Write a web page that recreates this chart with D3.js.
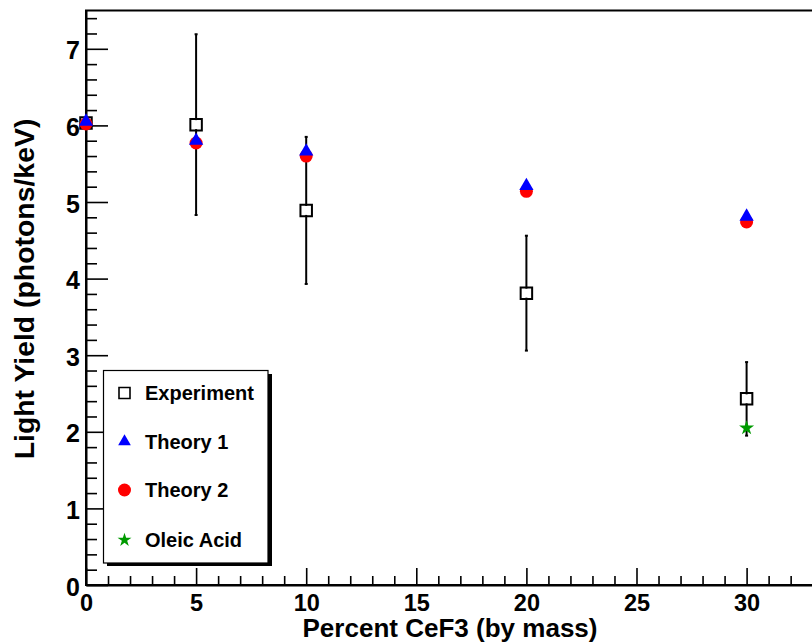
<!DOCTYPE html>
<html>
<head>
<meta charset="utf-8">
<script src="https://cdn.jsdelivr.net/npm/d3@7"></script>
<style>
  html, body { margin: 0; padding: 0; background: #fff; }
  svg { display: block; }
  text { font-family: "Liberation Sans", Arial, Helvetica, sans-serif; font-weight: bold; fill: #000; }
</style>
</head>
<body>
<svg id="chart" width="812" height="643"></svg>
<script>
// ---- data ----
const expX = [0, 5, 10, 20, 30];
const expY = [6.03, 6.01, 4.89, 3.81, 2.43];
const expErr = [0, 1.18, 0.96, 0.75, 0.48];
const theory1X = [0, 5, 10, 20, 30];
const theory1Y = [6.05, 5.80, 5.66, 5.21, 4.81];
const theory2X = [0, 5, 10, 20, 30];
const theory2Y = [6.02, 5.77, 5.60, 5.14, 4.74];
const oleicX = [30];
const oleicY = [2.05];
const legendLabels = ["Experiment", "Theory 1", "Theory 2", "Oleic Acid"];
const xMajorTicks = [0, 5, 10, 15, 20, 25, 30];
const yMajorTicks = [0, 1, 2, 3, 4, 5, 6, 7];
const xTitle = "Percent CeF3 (by mass)";
const yTitle = "Light Yield (photons/keV)";

// ---- layout ----
const svg = d3.select("#chart");
const x = d3.scaleLinear().domain([0, 33.5]).range([86, 86 + 33.5 * 22.02]);
const y = d3.scaleLinear().domain([0, 7.5]).range([585, 585 - 7.5 * 76.6]);

const xMinor = d3.range(0, 34, 1).filter(v => v % 5 !== 0);
const yMinor = d3.range(0, 75, 2).map(v => v / 10).filter(v => Math.abs(v - Math.round(v)) > 1e-6);

// frame
svg.append("rect")
  .attr("x", x(0)).attr("y", y(7.5))
  .attr("width", x(33.5) - x(0)).attr("height", y(0) - y(7.5))
  .attr("fill", "none").attr("stroke", "#000").attr("stroke-width", 2);

// x axis
const gx = svg.append("g").attr("transform", `translate(0,${y(0)})`);
gx.call(d3.axisBottom(x).tickValues(xMajorTicks).tickFormat(d3.format("d"))
  .tickSizeInner(-17).tickSizeOuter(0).tickPadding(9));
gx.append("g").call(d3.axisBottom(x).tickValues(xMinor).tickFormat("")
  .tickSizeInner(-9).tickSizeOuter(0)).select(".domain").remove();
gx.selectAll("text").style("font-size", "23.5px").attr("font-family", null);

// y axis
const gy = svg.append("g").attr("transform", `translate(${x(0)},0)`);
gy.call(d3.axisLeft(y).tickValues(yMajorTicks).tickFormat(d3.format("d"))
  .tickSizeInner(-22).tickSizeOuter(0).tickPadding(6));
gy.append("g").call(d3.axisLeft(y).tickValues(yMinor).tickFormat("")
  .tickSizeInner(-11).tickSizeOuter(0)).select(".domain").remove();
gy.selectAll("text").style("font-size", "25px").attr("dy", "0.4em").attr("font-family", null);

svg.selectAll(".domain").attr("stroke-width", 2);
svg.selectAll(".tick line").attr("stroke-width", 1.6);

// axis titles
svg.append("text").attr("x", 450).attr("y", 637.3).attr("text-anchor", "middle")
  .attr("textLength", 295).attr("lengthAdjust", "spacingAndGlyphs")
  .style("font-size", "25px").text(xTitle);
svg.append("text").attr("transform", "translate(34,289) rotate(-90)").attr("text-anchor", "middle")
  .style("font-size", "28.4px").text(yTitle);

// ---- data marks ----
const expData = expX.map((v, i) => ({ x: v, y: expY[i], e: expErr[i] }));
const half = 6.5;
const gErr = svg.append("g").attr("stroke", "#000").attr("stroke-width", 2);
expData.filter(d => d.e > 0).forEach(d => {
  const cx = x(d.x), cy = y(d.y);
  gErr.append("line").attr("x1", cx).attr("x2", cx).attr("y1", y(d.y + d.e)).attr("y2", cy - half + 2);
  gErr.append("line").attr("x1", cx).attr("x2", cx).attr("y1", cy + half - 2).attr("y2", y(d.y - d.e));
  gErr.append("line").attr("x1", cx - 1.5).attr("x2", cx + 1.5).attr("y1", y(d.y + d.e)).attr("y2", y(d.y + d.e));
  gErr.append("line").attr("x1", cx - 1.5).attr("x2", cx + 1.5).attr("y1", y(d.y - d.e)).attr("y2", y(d.y - d.e));
});

const sqSym = d3.symbol(d3.symbolSquare, 132);
const triSym = d3.symbol(d3.symbolTriangle, 88);
const cirSym = d3.symbol(d3.symbolCircle, 133);
const starSym = d3.symbol(d3.symbolStar, 70);

svg.append("g").selectAll("path").data(expData).join("path")
  .attr("d", sqSym).attr("transform", d => `translate(${x(d.x)},${y(d.y)})`)
  .attr("fill", "none").attr("stroke", "#000").attr("stroke-width", 2);

svg.append("g").selectAll("path").data(theory2X.map((v, i) => ({ x: v, y: theory2Y[i] }))).join("path")
  .attr("d", cirSym).attr("transform", d => `translate(${x(d.x)},${y(d.y)})`).attr("fill", "#ff0000");

svg.append("g").selectAll("path").data(theory1X.map((v, i) => ({ x: v, y: theory1Y[i] }))).join("path")
  .attr("d", triSym).attr("transform", d => `translate(${x(d.x)},${y(d.y)})`).attr("fill", "#0000ff");

svg.append("g").selectAll("path").data(oleicX.map((v, i) => ({ x: v, y: oleicY[i] }))).join("path")
  .attr("d", starSym).attr("transform", d => `translate(${x(d.x)},${y(d.y)})`).attr("fill", "#009a00");

// ---- legend ----
const lg = svg.append("g");
lg.append("rect").attr("x", 107).attr("y", 374).attr("width", 165).attr("height", 192).attr("fill", "#000");
lg.append("rect").attr("x", 103.5).attr("y", 370.5).attr("width", 164.5).attr("height", 192.5)
  .attr("fill", "#fff").attr("stroke", "#000").attr("stroke-width", 1.2);
const rowY = [393, 441.5, 490, 540];
const legSyms = [
  { sym: d3.symbol(d3.symbolSquare, 121), fill: "none", stroke: "#000" },
  { sym: d3.symbol(d3.symbolTriangle, 70), fill: "#0000ff", stroke: "none" },
  { sym: d3.symbol(d3.symbolCircle, 133), fill: "#ff0000", stroke: "none" },
  { sym: d3.symbol(d3.symbolStar, 60), fill: "#009a00", stroke: "none" }
];
legendLabels.forEach((lab, i) => {
  lg.append("path").attr("d", legSyms[i].sym).attr("transform", `translate(124.5,${rowY[i]})`)
    .attr("fill", legSyms[i].fill).attr("stroke", legSyms[i].stroke).attr("stroke-width", 1.6);
  lg.append("text").attr("x", 145).attr("y", rowY[i] + 7).style("font-size", "20px").text(lab);
});
</script>
</body>
</html>
